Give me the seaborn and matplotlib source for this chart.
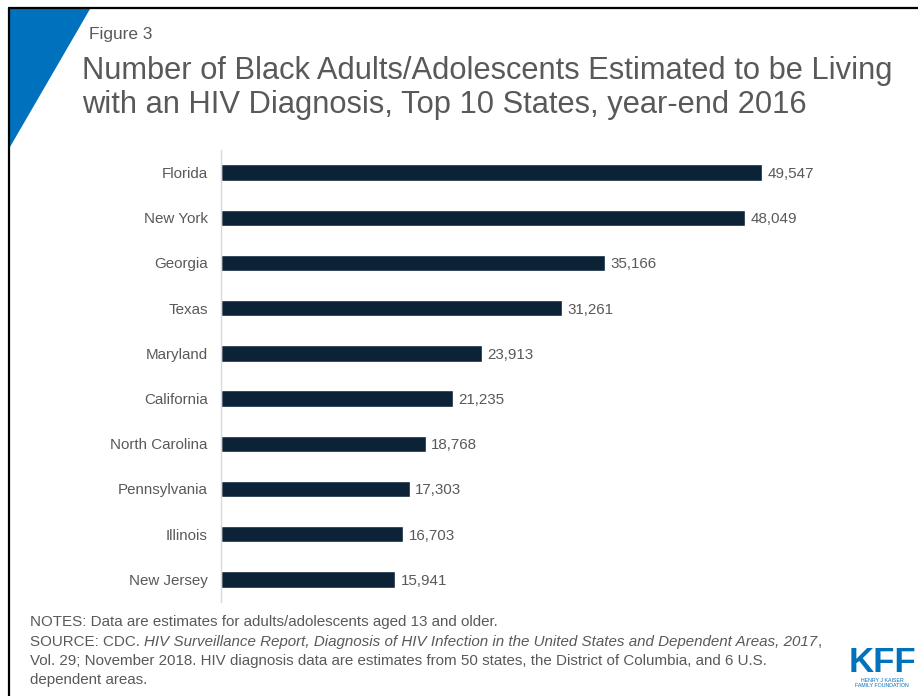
import matplotlib
matplotlib.use("Agg")
import matplotlib.pyplot as plt
import seaborn as sns
import pandas as pd
from matplotlib.patches import Polygon
from matplotlib.lines import Line2D

states = ["Florida", "New York", "Georgia", "Texas", "Maryland", "California",
          "North Carolina", "Pennsylvania", "Illinois", "New Jersey"]
values = [49547, 48049, 35166, 31261, 23913, 21235, 18768, 17303, 16703, 15941]

fig_title = "Number of Black Adults/Adolescents Estimated to be Living\nwith an HIV Diagnosis, Top 10 States, year-end 2016"
fig_label = "Figure 3"

sns.set_style("white")
plt.rcParams["font.family"] = ["Liberation Sans", "DejaVu Sans"]

W, H = 918, 696
fig = plt.figure(figsize=(W / 100, H / 100), dpi=100)

def fx(px):
    return px / W

def fy(py):
    return 1 - py / H

bar_color = "#0B2237"
text_gray = "#595959"

df = pd.DataFrame({"state": states, "value": values})
ax = fig.add_axes([fx(221), fy(602), fx(832) - fx(221), fy(150) - fy(602)])
sns.barplot(data=df, x="value", y="state", color=bar_color, width=0.36,
            saturation=1, ax=ax)
ax.set_xlim(0, 56000)
ax.set_ylim(9.5, -0.5)
ax.set_xlabel("")
ax.set_ylabel("")
ax.set_xticks([])
for s in ["top", "right", "bottom"]:
    ax.spines[s].set_visible(False)
ax.spines["left"].set_color("#d9d9d9")
ax.spines["left"].set_linewidth(1.0)
ax.tick_params(axis="y", length=0, pad=9.5, labelsize=10.9, labelcolor=text_gray)
lbls = ax.bar_label(ax.containers[0], labels=[f"{v:,}" for v in values], padding=4,
                    fontsize=10.9, color=text_gray)
for t in lbls:
    t.set_y(t.get_position()[1])
    t.set_va("center_baseline")

# Border lines
fig.add_artist(Line2D([fx(9), 1], [fy(8), fy(8)], color="black", lw=1.6,
                      transform=fig.transFigure))
fig.add_artist(Line2D([fx(9), fx(9)], [fy(8), 0], color="black", lw=1.6,
                      transform=fig.transFigure))
# Blue triangle
fig.add_artist(Polygon([[fx(10), fy(9)], [fx(90), fy(9)], [fx(10), fy(147)]],
                       closed=True, facecolor="#0071BC", edgecolor="none",
                       transform=fig.transFigure))

fig.text(fx(89), fy(35), fig_label, fontsize=12.4, color=text_gray, va="center")
fig.text(fx(82), fy(88), fig_title, fontsize=22.2, color=text_gray,
         va="center", ha="left", linespacing=1.2)

# Notes and source
fs = 10.9
fig.text(fx(30), fy(622), "NOTES: Data are estimates for adults/adolescents aged 13 and older.",
         fontsize=fs, color=text_gray, va="center")

fig.canvas.draw()
renderer = fig.canvas.get_renderer()
pieces = [("SOURCE: CDC. ", "normal"),
          ("HIV Surveillance Report, Diagnosis of HIV Infection in the United States and Dependent Areas, 2017", "italic"),
          (",", "normal")]
x = fx(30)
for txt, style in pieces:
    t = fig.text(x, fy(642), txt, fontsize=fs, color=text_gray, va="center", style=style)
    bb = t.get_window_extent(renderer=renderer)
    x = bb.x1 / W
fig.text(fx(30), fy(661), "Vol. 29; November 2018. HIV diagnosis data are estimates from 50 states, the District of Columbia, and 6 U.S.",
         fontsize=fs, color=text_gray, va="center")
fig.text(fx(30), fy(680), "dependent areas.", fontsize=fs, color=text_gray, va="center")

# KFF logo
fig.text(fx(882), fy(662), "KFF", fontsize=25, fontweight="bold", color="#0071BC",
         ha="center", va="center")
fig.text(fx(882), fy(683), "HENRY J KAISER\nFAMILY FOUNDATION", fontsize=3.8,
         color="#0071BC", ha="center", va="center", linespacing=1.1)

fig.savefig("out.png", dpi=100)
